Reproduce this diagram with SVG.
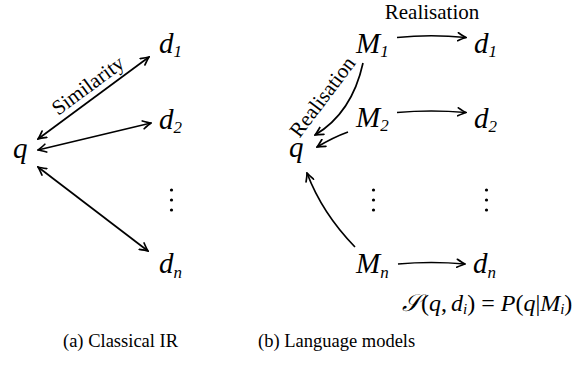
<svg xmlns="http://www.w3.org/2000/svg" width="577" height="385" viewBox="0 0 577 385">
<style>
.m{font-family:'Liberation Serif','DejaVu Serif',serif;font-style:italic;font-size:29px;fill:#000}
.sub{font-size:17px}
.lbl{font-family:'Liberation Serif','DejaVu Serif',serif;font-size:21px;fill:#000}
.cap{font-family:'Liberation Serif','DejaVu Serif',serif;font-size:18.5px;fill:#000}
.f{font-family:'Liberation Serif','DejaVu Serif',serif;font-size:24px;fill:#000}
.i{font-style:italic}
.c{fill:none;stroke:#000;stroke-width:1.7}
.dot{fill:#000}
</style>
<defs>
<marker id="ah" viewBox="-9 -5 10 10" refX="0" refY="0" markerWidth="10" markerHeight="10" markerUnits="userSpaceOnUse" orient="auto-start-reverse">
<path d="M-8,-4 Q-2.5,-0.9 0,0 Q-2.5,0.9 -8,4" fill="none" stroke="#000" stroke-width="1.7" stroke-linecap="round"/>
</marker>
</defs>
<rect width="577" height="385" fill="#fff"/>
<g id="connectors">
<path class="c" d="M38,139 L149,57" marker-start="url(#ah)" marker-end="url(#ah)"/>
<path class="c" d="M38,150 L151,123" marker-start="url(#ah)" marker-end="url(#ah)"/>
<path class="c" d="M38,167 L148,251" marker-start="url(#ah)" marker-end="url(#ah)"/>
<path class="c" d="M397,37.5 Q431,34 466,37.5" marker-end="url(#ah)"/>
<path class="c" d="M397,112.5 Q431,109.5 466,112.5" marker-end="url(#ah)"/>
<path class="c" d="M398,264 Q431,261 465,264" marker-end="url(#ah)"/>
<path class="c" d="M363,63 Q352,113 315,135" marker-end="url(#ah)"/>
<path class="c" d="M348,132 Q334,137 317,147" marker-end="url(#ah)"/>
<path class="c" d="M355,247 Q322,213 307,173" marker-end="url(#ah)"/>
</g>
<g id="labels">
<text class="lbl" text-anchor="middle" transform="translate(92,91) rotate(-36.5)">Similarity</text>
<text class="lbl" text-anchor="middle" x="432" y="19">Realisation</text>
<text class="lbl" text-anchor="middle" transform="translate(328,101) rotate(-53)">Realisation</text>
</g>
<g id="q-left"><text class="m" x="13" y="158">q</text></g>
<g id="d1-left"><text class="m" x="159" y="53">d<tspan class="sub" dy="4">1</tspan></text></g>
<g id="d2-left"><text class="m" x="159" y="129">d<tspan class="sub" dy="4">2</tspan></text></g>
<g id="dots-left"><circle class="dot" cx="171.5" cy="190" r="1.6"/><circle class="dot" cx="171.5" cy="200" r="1.6"/><circle class="dot" cx="171.5" cy="210" r="1.6"/></g>
<g id="dn-left"><text class="m" x="159" y="273">d<tspan class="sub" dy="5">n</tspan></text></g>
<g id="q-right"><text class="m" x="289" y="157">q</text></g>
<g id="M1"><text class="m" x="356" y="53">M<tspan class="sub" dy="4">1</tspan></text></g>
<g id="M2"><text class="m" x="356" y="127">M<tspan class="sub" dy="4">2</tspan></text></g>
<g id="dots-M"><circle class="dot" cx="373.5" cy="190" r="1.6"/><circle class="dot" cx="373.5" cy="200" r="1.6"/><circle class="dot" cx="373.5" cy="210" r="1.6"/></g>
<g id="Mn"><text class="m" x="356" y="273">M<tspan class="sub" dy="5">n</tspan></text></g>
<g id="d1-right"><text class="m" x="474" y="53">d<tspan class="sub" dy="4">1</tspan></text></g>
<g id="d2-right"><text class="m" x="474" y="128">d<tspan class="sub" dy="4">2</tspan></text></g>
<g id="dots-d"><circle class="dot" cx="486.5" cy="190" r="1.6"/><circle class="dot" cx="486.5" cy="200" r="1.6"/><circle class="dot" cx="486.5" cy="210" r="1.6"/></g>
<g id="dn-right"><text class="m" x="473" y="273">d<tspan class="sub" dy="5">n</tspan></text></g>
<g id="formula"><text class="f" x="402" y="311"><tspan class="i">𝒮</tspan>(<tspan class="i">q</tspan>,<tspan class="i" dx="4">d</tspan><tspan class="i" font-size="15" dy="3">i</tspan><tspan dy="-3">) = </tspan><tspan class="i">P</tspan>(<tspan class="i">q</tspan>|<tspan class="i">M</tspan><tspan class="i" font-size="15" dy="3">i</tspan><tspan dy="-3">)</tspan></text></g>
<g id="captions">
<text class="cap" x="63" y="347">(a) Classical IR</text>
<text class="cap" x="258" y="347">(b) Language models</text>
</g>
</svg>
